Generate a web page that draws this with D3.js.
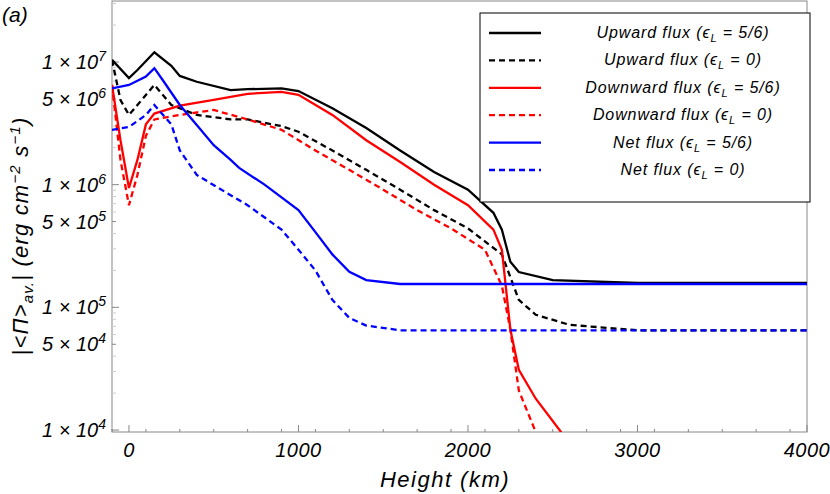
<!DOCTYPE html>
<html><head><meta charset="utf-8">
<script src="https://cdn.jsdelivr.net/npm/d3@7"></script>
<style>body{margin:0;background:#fff}text{font-family:"Liberation Sans",Arial,sans-serif;font-style:italic}</style>
</head><body><svg id="c" width="830" height="494"></svg>
<script>
// heights (km) and flux values
const upH = [-100,0,50,150,250,300,400,600,700,900,1000,1200,1400,1600,1800,2000,2150,2200,2250,2300,2500,3000,4000];
const upV = [1.04e7,7.4e6,8.6e6,1.2e7,9.3e6,7.7e6,6.9e6,5.9e6,6.0e6,6.1e6,5.8e6,4.2e6,2.9e6,1.9e6,1.27e6,9.1e5,5.9e5,4.3e5,2.35e5,1.94e5,1.67e5,1.58e5,1.58e5];
const up0H = [-100,-50,0,50,150,250,400,600,700,900,1000,1200,1400,1600,1800,2000,2200,2300,2400,2600,3000,4000];
const up0V = [1.04e7,4.9e6,3.7e6,4.46e6,6.5e6,4.46e6,3.7e6,3.4e6,3.4e6,3.0e6,2.7e6,1.9e6,1.32e6,9.1e5,6.2e5,4.4e5,2.7e5,1.15e5,8.7e4,7.2e4,6.5e4,6.5e4];
const dnH = [-100,-50,0,50,100,150,300,500,700,900,1000,1200,1400,1600,1800,2000,2150,2200,2250,2300,2400,2550];
const dnV = [6.5e6,2.3e6,9.4e5,1.59e6,3.1e6,3.8e6,4.4e6,4.9e6,5.5e6,5.7e6,5.4e6,3.7e6,2.3e6,1.53e6,1.0e6,6.8e5,4.3e5,2.95e5,6.6e4,3.1e4,1.8e4,9.6e3];
const dn0H = [-100,-50,0,50,100,150,300,500,700,900,1100,1300,1500,1700,1900,2100,2200,2250,2300,2400];
const dn0V = [6.5e6,1.59e6,6.8e5,1.2e6,2.5e6,3.4e6,3.7e6,4.06e6,3.4e6,2.8e6,1.9e6,1.32e6,9.1e5,6.2e5,4.4e5,2.95e5,1.5e5,6.6e4,2.1e4,9.6e3];
const netH = [-100,0,100,150,200,300,400,500,600,650,800,1000,1100,1200,1300,1400,1600,4000];
const netV = [6.1e6,6.5e6,7.6e6,8.9e6,7.1e6,4.46e6,3.07e6,2.1e6,1.59e6,1.37e6,1.0e6,6.2e5,4.1e5,2.7e5,1.95e5,1.67e5,1.55e5,1.55e5];
const net0H = [-100,0,100,150,250,300,400,600,700,900,1000,1100,1200,1300,1400,1600,4000];
const net0V = [2.8e6,2.95e6,3.7e6,4.46e6,3.1e6,1.9e6,1.2e6,8.2e5,6.8e5,4.3e5,2.95e5,2.0e5,1.15e5,8.2e4,7.1e4,6.5e4,6.5e4];
const seriesNames = ["Upward flux (", "Upward flux (", "Downward flux (", "Downward flux (", "Net flux (", "Net flux ("];
const seriesEps = ["5/6","0","5/6","0","5/6","0"];
const xTicks = [0,1000,2000,3000,4000];
const yMajor = [[1e4,4],[5e4,4],[1e5,5],[5e5,5],[1e6,6],[5e6,6],[1e7,7]];

const svg = d3.select('#c');
const x = d3.scaleLinear().domain([-100,4000]).range([112,807]);
const y = d3.scaleLog().domain([Math.pow(10,3.984),Math.pow(10,7.497)]).range([432,1]);
const grey = '#888';

const series = [
  {h:upH,v:upV,c:'#000',d:null},{h:up0H,v:up0V,c:'#000',d:'6,4'},
  {h:dnH,v:dnV,c:'#f00',d:null},{h:dn0H,v:dn0V,c:'#f00',d:'6,4'},
  {h:netH,v:netV,c:'#00f',d:null},{h:net0H,v:net0V,c:'#00f',d:'6,4'}];

// frame
svg.append('rect').attr('x',112).attr('y',1).attr('width',695).attr('height',431)
  .attr('fill','none').attr('stroke',grey);

// x ticks
d3.range(-100,4001,200).forEach(t=>{
  svg.append('line').attr('x1',x(t)).attr('x2',x(t)).attr('y1',432).attr('y2',429).attr('stroke',grey);
});
xTicks.forEach(t=>{
  svg.append('line').attr('x1',x(t)).attr('x2',x(t)).attr('y1',432).attr('y2',425).attr('stroke',grey);
  svg.append('text').attr('x',x(t)).attr('y',457).attr('text-anchor','middle')
    .attr('font-size',20).attr('letter-spacing',0.5).text(t);
});

// y ticks
for (let e=4;e<8;e++) for (let m=1;m<10;m++){
  const v=m*Math.pow(10,e); if (v>y.domain()[1]) continue;
  svg.append('line').attr('x1',112).attr('x2',112+(m==1?7:4)).attr('y1',y(v)).attr('y2',y(v))
    .attr('stroke',m==1||m==5?grey:'#ccc');
}
yMajor.forEach(([v,e])=>{
  const t=svg.append('text').attr('x',106).attr('y',y(v)+7).attr('text-anchor','end').attr('font-size',20);
  t.append('tspan').text((v/Math.pow(10,e))+' × 10');
  t.append('tspan').attr('dy',-8).attr('font-size',14).text(e);
});

// curves
const line = d3.line().x(d=>x(d[0])).y(d=>y(d[1]));
svg.append('defs').append('clipPath').attr('id','cp').append('rect').attr('x',112).attr('y',1).attr('width',695).attr('height',431);
series.forEach(s=>{
  svg.append('path').datum(s.h.map((h,i)=>[h,s.v[i]])).attr('d',line).attr('clip-path','url(#cp)')
    .attr('fill','none').attr('stroke',s.c).attr('stroke-width',2.3).attr('stroke-dasharray',s.d);
});

// labels
const lab = svg.append('text').attr('x',2).attr('y',22).attr('font-size',21).attr('font-style','normal');
lab.append('tspan').text('(');
lab.append('tspan').attr('font-style','italic').text('a');
lab.append('tspan').text(')');
svg.append('text').attr('x',445).attr('y',487).attr('text-anchor','middle').attr('font-size',22)
  .attr('letter-spacing',1.5).text('Height (km)');
const yl = svg.append('text').attr('transform','translate(28,236) rotate(-90)').attr('text-anchor','middle')
  .attr('font-size',22).attr('letter-spacing',1.2);
yl.append('tspan').text('|<Π>');
yl.append('tspan').attr('font-size',15).attr('dy',5).text('av.');
yl.append('tspan').attr('dy',-5).text('|  (erg cm');
yl.append('tspan').attr('font-size',15).attr('dy',-8).text('−2');
yl.append('tspan').attr('dy',8).text(' s');
yl.append('tspan').attr('font-size',15).attr('dy',-8).text('−1');
yl.append('tspan').attr('dy',8).text(')');

// legend
svg.append('rect').attr('x',480).attr('y',13).attr('width',330).attr('height',189).attr('fill','#fff').attr('stroke','#000');
series.forEach((s,i)=>{
  const ly = 33+i*27.4;
  svg.append('line').attr('x1',489).attr('x2',541).attr('y1',ly).attr('y2',ly).attr('stroke',s.c).attr('stroke-width',2.3).attr('stroke-dasharray',s.d);
  const t = svg.append('text').attr('x',683).attr('y',ly+5).attr('text-anchor','middle').attr('font-size',16)
    .attr('letter-spacing',0.9);
  t.append('tspan').text(seriesNames[i]+'ϵ');
  t.append('tspan').attr('font-size',11).attr('dy',4).text('L');
  t.append('tspan').attr('dy',-4).text(' = '+seriesEps[i]+')');
});
</script></body></html>
